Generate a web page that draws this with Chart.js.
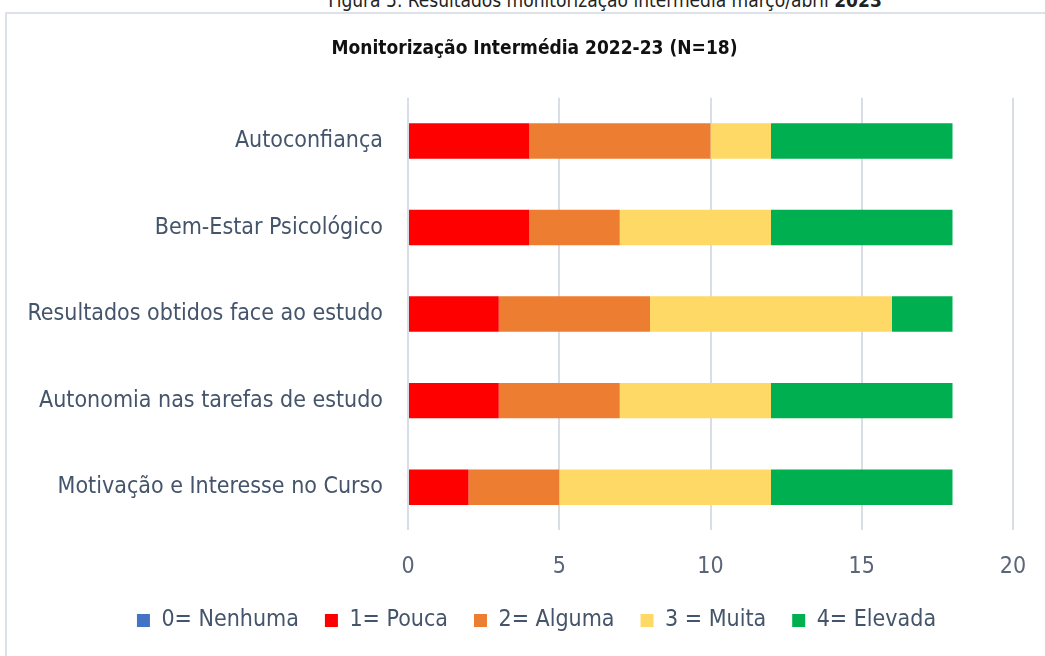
<!DOCTYPE html>
<html>
<head>
<meta charset="utf-8">
<script src="https://cdn.jsdelivr.net/npm/chart.js@4.4.0/dist/chart.umd.min.js"></script>
<style>
  html, body { margin: 0; padding: 0; background: #fff; }
  body { width: 1045px; height: 656px; position: relative; overflow: hidden; }
  .caption {
    position: absolute; top: -11px; left: 0; width: 1210px; text-align: center;
    font-family: "Liberation Sans Narrow", "DejaVu Sans Condensed", sans-serif;
    font-size: 19px; color: #222;
  }
  .frame {
    position: absolute; left: 5px; top: 12px; width: 1045px; height: 650px;
    border: 2px solid #dde1ea; box-sizing: border-box;
  }
  #wrap { position: absolute; left: 0; top: 0; width: 1045px; height: 656px; }
</style>
</head>
<body>
<div class="caption">Figura 5. Resultados monitorização intermédia março/abril <b>2023</b></div>
<div class="frame"></div>
<div id="wrap"><canvas id="chart"></canvas></div>
<script>
// categories (top to bottom)
const categories = [
  'Autoconfiança',
  'Bem-Estar Psicológico',
  'Resultados obtidos face ao estudo',
  'Autonomia nas tarefas de estudo',
  'Motivação e Interesse no Curso'
];

// number of students per level
const nenhuma = [0, 0, 0, 0, 0];
const pouca   = [4, 4, 3, 3, 2];
const alguma  = [6, 3, 5, 4, 3];
const muita   = [2, 5, 8, 5, 7];
const elevada = [6, 6, 2, 6, 6];

const xTicks = [0, 5, 10, 15, 20];

const labelFont = "'Liberation Sans Narrow', 'DejaVu Sans Condensed', sans-serif";

const mk = (label, data, color) => ({
  label: label,
  data: data,
  backgroundColor: color,
  borderWidth: 0,
  barPercentage: 0.41,
  categoryPercentage: 1
});

// title and legend sit a bit right of the canvas centre, like in the original
const shiftBoxes = {
  id: 'shiftBoxes',
  afterLayout(chart) {
    if (chart.titleBlock) { chart.titleBlock.left += 28; chart.titleBlock.right += 28; }
    if (chart.legend) { chart.legend.left += 30; chart.legend.right += 30; }
  }
};

new Chart(document.getElementById('chart'), {
  type: 'bar',
  data: {
    labels: categories,
    datasets: [
      mk('0= Nenhuma', nenhuma, '#4472c4'),
      mk('1= Pouca', pouca, '#ff0000'),
      mk('2= Alguma', alguma, '#ed7d31'),
      mk('3 = Muita', muita, '#ffd966'),
      mk('4= Elevada', elevada, '#00b050')
    ]
  },
  plugins: [shiftBoxes],
  options: {
    indexAxis: 'y',
    responsive: true,
    maintainAspectRatio: false,
    animation: false,
    layout: { padding: { left: 0, right: 32, top: 0, bottom: 14 } },
    plugins: {
      title: {
        display: true,
        text: 'Monitorização Intermédia 2022-23 (N=18)',
        color: '#111',
        font: { family: labelFont, size: 19, weight: 'bold' },
        padding: { top: 38, bottom: 37 }
      },
      legend: {
        position: 'bottom',
        labels: {
          color: '#44546a',
          font: { family: labelFont, size: 23 },
          boxWidth: 13,
          boxHeight: 13,
          padding: 26
        }
      },
      tooltip: { enabled: false }
    },
    scales: {
      x: {
        stacked: true,
        min: 0,
        max: 20,
        afterBuildTicks: (scale) => { scale.ticks = xTicks.map(v => ({ value: v })); },
        afterFit: (scale) => {
          scale.height -= 21;
          scale.paddingLeft = 0;
          scale.paddingRight = 0;
        },
        grid: { color: '#d9dde6', lineWidth: 2, drawTicks: false },
        border: { display: false },
        ticks: {
          color: '#5a6577',
          font: { family: labelFont, size: 23 },
          padding: 23
        }
      },
      y: {
        stacked: true,
        grid: { display: false, drawTicks: false },
        border: { display: false },
        afterFit: (scale) => { scale.width = 408; },
        ticks: {
          color: '#44546a',
          font: { family: labelFont, size: 23 },
          padding: 25
        }
      }
    }
  }
});
</script>
</body>
</html>
